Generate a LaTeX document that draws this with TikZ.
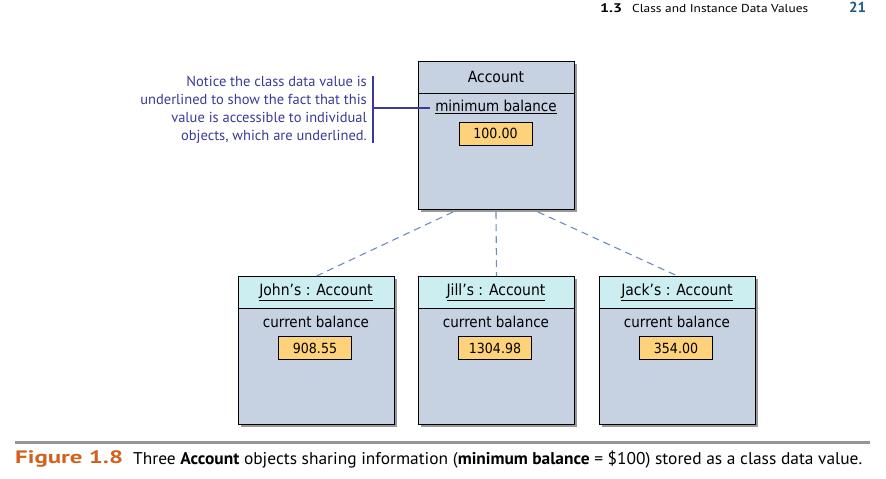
\documentclass[tikz,border=0pt]{standalone}
\usepackage{fontspec}
\setmainfont{PT Sans}
\newfontfamily\boxfont{DejaVu Sans Condensed}
\usetikzlibrary{shadows}
\definecolor{boxfill}{RGB}{198,209,226}
\definecolor{headfill}{RGB}{205,238,240}
\definecolor{valfill}{RGB}{253,210,122}
\definecolor{callout}{RGB}{58,58,153}
\definecolor{dashcol}{RGB}{110,140,185}
\definecolor{figorange}{RGB}{212,96,30}
\definecolor{pagenum}{RGB}{30,90,138}
\definecolor{rulegray}{RGB}{150,150,150}
\tikzset{
  umlbox/.style={draw=black, line width=1pt, fill=boxfill, minimum width=156pt, minimum height=148pt, anchor=north west, inner sep=0pt,
    drop shadow={shadow xshift=2.5pt, shadow yshift=-2.5pt, fill=black!40, opacity=1}},
  headbox/.style={draw=black, line width=1pt, fill=headfill, minimum width=156pt, minimum height=32pt, anchor=north west, inner sep=0pt},
  valbox/.style={draw=black, line width=0.8pt, fill=valfill, minimum width=73pt, minimum height=23pt, inner sep=0pt, font=\boxfont\fontsize{14}{16}\selectfont},
  titlelbl/.style={font=\boxfont\fontsize{15.5}{18}\selectfont, inner sep=0pt},
  lbl/.style={font=\boxfont\fontsize{15}{18}\selectfont, inner sep=0pt},
  link/.style={draw=dashcol, line width=1.1pt, dash pattern=on 7pt off 5pt},
  note/.style={font=\fontsize{14.5}{18}\selectfont, text=callout, anchor=base east, inner sep=0pt},
}
\begin{document}
\begin{tikzpicture}[x=1pt,y=-1pt]
\useasboundingbox (0,0) rectangle (886,479);
% running head
\node[anchor=base west, font=\bfseries\fontsize{12.5}{14}\selectfont, inner sep=0pt] (sec) at (600,12.5) {\resizebox{22pt}{\height}{1.3}};
\node[anchor=base west, font=\fontsize{11.5}{14}\selectfont, inner sep=0pt] (sectitle) at (632,12.5) {\resizebox{176pt}{\height}{Class and Instance Data Values}};
\node[anchor=base west, font=\bfseries\fontsize{14.5}{16}\selectfont, text=pagenum, inner sep=0pt] (page) at (849,12.5) {\resizebox{17pt}{\height}{21}};
% class box
\node[umlbox] (acc) at (418,61) {};
\draw[line width=1pt] (418,93) -- (574,93);
\node[titlelbl] (acctitle) at (496,77) {Account};
\node[lbl] (minbal) at (496,107) {\underline{minimum balance}};
\node[valbox] (minval) at (495.5,133.5) {100.00};
% callout
\node[note] (note1) at (367,86) {Notice the class data value is};
\node[note] (note2) at (367,104) {underlined to show the fact that this};
\node[note] (note3) at (367,122) {value is accessible to individual};
\node[note] (note4) at (367,140) {objects, which are underlined.};
\coordinate (brtop) at (373,76);
\coordinate (brbot) at (373,143);
\coordinate (brmid) at (373,108);
\coordinate (brend) at (430,108);
\draw[callout, line width=1.2pt] (brtop) -- (brbot);
\draw[callout, line width=1.2pt] (brmid) -- (brend);
% object boxes
\foreach \name/\x/\who/\val in {john/238/John’s/908.55, jill/418/Jill’s/1304.98, jack/599/Jack’s/354.00}{
  \node[umlbox] (\name) at (\x,276) {};
  \node[headbox] (\name head) at (\x,276) {};
  \node[titlelbl] (\name title) at (\x+78,292) {\underline{\who\ : Account}};
  \node[lbl] (\name cb) at (\x+78,322) {current balance};
  \node[valbox] (\name val) at (\x+77,348) {\val};
}
% links
\coordinate (a1) at (453,212);
\coordinate (a2) at (496,212);
\coordinate (a3) at (538,212);
\draw[link] (a1) -- (john.north);
\draw[link] (a2) -- (jill.north);
\draw[link] (a3) -- (jack.north);
% rule and caption
\draw[rulegray, line width=3pt] (15,442) -- (870,442);
\node[anchor=base west, inner sep=0pt, font=\bfseries\fontsize{18}{20}\selectfont, text=figorange] (fig) at (15,463.5) {\resizebox{108pt}{\height}{Figure 1.8}};
\node[anchor=base west, inner sep=0pt, font=\fontsize{17}{18}\selectfont] (cap) at (133,464) {\resizebox{729pt}{\height}{Three \textbf{Account} objects sharing information (\textbf{minimum balance} = \$100) stored as a class data value.}};
\end{tikzpicture}
\end{document}
